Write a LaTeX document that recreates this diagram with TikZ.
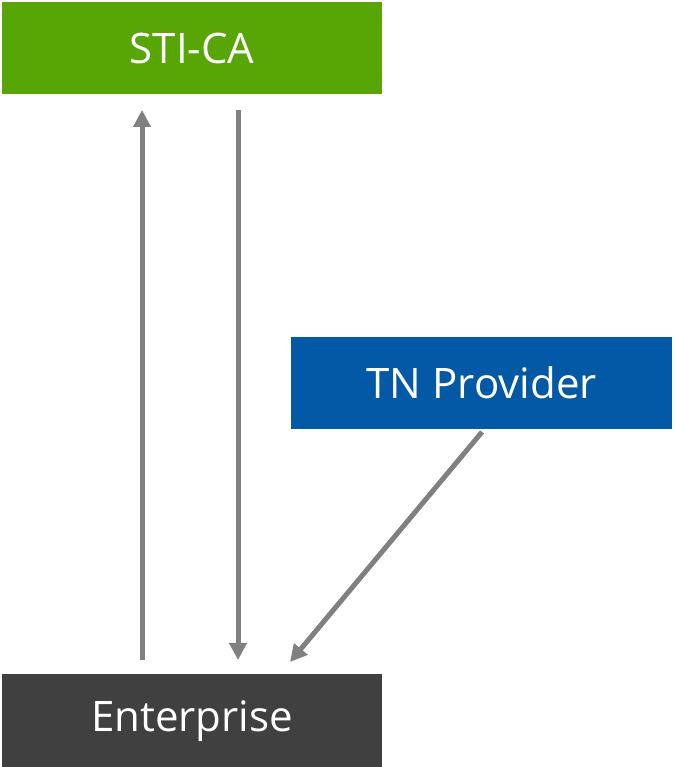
\documentclass[tikz,border=0pt]{standalone}
\usepackage{fontspec}
\setmainfont{Open Sans}
\usetikzlibrary{arrows.meta}
\definecolor{stigreen}{HTML}{58A606}
\definecolor{tnblue}{HTML}{0459A7}
\definecolor{entgray}{HTML}{404040}
\definecolor{linkgray}{HTML}{808080}
\tikzset{
  box/.style={rectangle, inner sep=0pt, minimum width=380pt, minimum height=92pt,
    text=white, font=\fontsize{42}{50}\selectfont},
  link/.style={draw=linkgray, line width=5pt,
    -{Triangle[width=17pt,length=17pt]}}
}
\begin{document}
\begin{tikzpicture}[x=1pt,y=1pt]
  \useasboundingbox (0,0) rectangle (674,767);
  \node[box, fill=stigreen, anchor=north west] (sti) at (2,765) {\raisebox{-2pt}{STI-CA}};
  \node[box, fill=tnblue, minimum width=381pt, anchor=north west] (tn) at (291,430) {TN Provider};
  \node[box, fill=entgray, minimum height=93pt, anchor=north west] (ent) at (2,93) {\raisebox{-5pt}{Enterprise}};
  % connector end points
  \coordinate (upfrom) at (142,107);
  \coordinate (upto) at (142,657);
  \coordinate (downfrom) at (238,657);
  \coordinate (downto) at (238,107);
  \coordinate (diagfrom) at (482,335);
  \coordinate (diagto) at (290,105);
  \draw[link] (upfrom) -- (upto);
  \draw[link] (downfrom) -- (downto);
  \draw[link] (diagfrom) -- (diagto);
\end{tikzpicture}
\end{document}
